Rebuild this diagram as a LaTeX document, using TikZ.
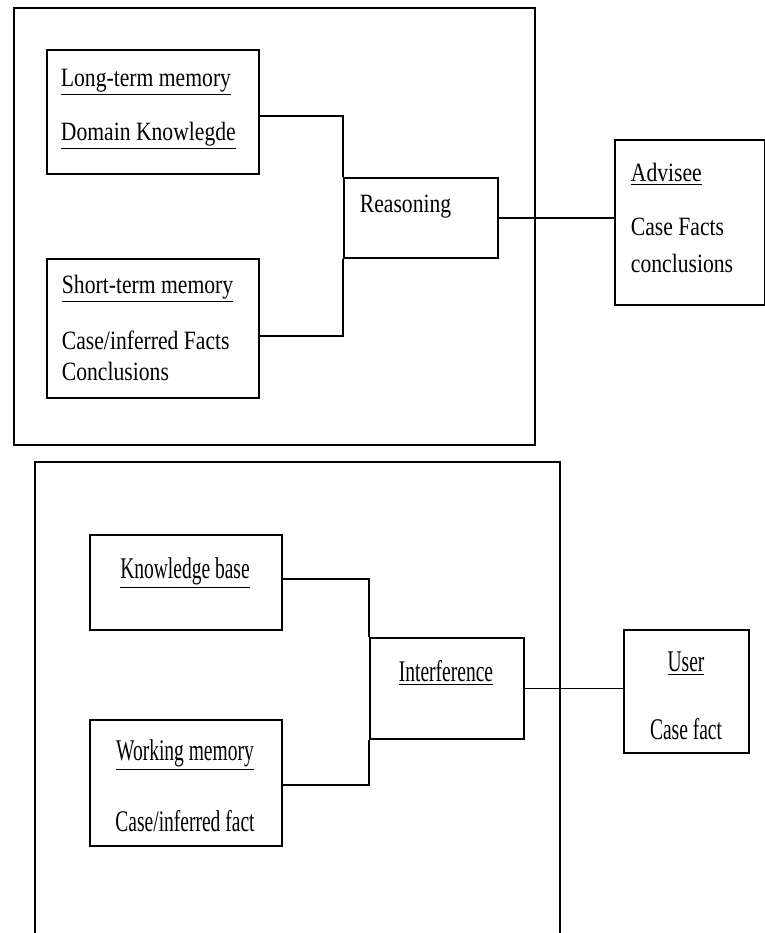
\documentclass[tikz,border=0pt]{standalone}
\usepackage{fontspec}
\setmainfont{Liberation Serif}
\newfontfamily\upperfont{Liberation Serif}[FakeStretch=0.82]
\newfontfamily\lowerfont{Liberation Serif}[FakeStretch=0.65]

\begin{document}
\begin{tikzpicture}[
	x=0.5pt, y=-0.5pt,
	line width=0.9pt,
	box/.style={draw, rectangle, inner sep=0pt, anchor=north west},
	uptext/.style={anchor=base west, inner sep=0pt, font=\upperfont\fontsize{13.2}{16}\selectfont},
	lowtext/.style={anchor=base, inner sep=0pt, font=\lowerfont\fontsize{15}{18}\selectfont},
	]
	\useasboundingbox (0,0) rectangle (765,933);
	
	%% upper frame
	\draw (14,8) rectangle (535,445);
	\node[box, minimum width=106pt, minimum height=62pt] (ltm) at (46,49) {};
	\node[box, minimum width=106pt, minimum height=69.5pt] (stm) at (46,258) {};
	\node[box, minimum width=77pt, minimum height=40pt] (reason) at (343,177) {};
	\node[box, minimum width=75pt, minimum height=82.5pt] (advisee) at (614,139) {};
	
	\node[uptext] (ltmtitle) at (60,86) {\underline{Long-term memory}};
	\node[uptext] (ltmbody) at (60,140) {\underline{Domain Knowlegde}};
	\node[uptext] (stmtitle) at (61,293) {\underline{Short-term memory}};
	\node[uptext] (stmfacts) at (61,349) {Case/inferred Facts};
	\node[uptext] (stmconcl) at (61,380) {Conclusions};
	\node[uptext] (reasontext) at (359,212) {Reasoning};
	\node[uptext] (advtitle) at (630,181) {\underline{Advisee}};
	\node[uptext] (advfacts) at (630,235) {Case Facts};
	\node[uptext] (advconcl) at (630,272) {conclusions};
	
	\draw ([yshift=-2pt]ltm.east) -| (reason.north west);
	\draw ([yshift=-3.75pt]stm.east) -| (reason.south west);
	\draw (reason.east) -- (reason.east -| advisee.west);
	
	%% lower frame
	\draw (35,940) -- (35,462) -- (560,462) -- (560,940);
	\node[box, minimum width=96pt, minimum height=47.5pt] (kb) at (89,534) {};
	\node[box, minimum width=96pt, minimum height=63pt] (wm) at (89,719) {};
	\node[box, minimum width=77pt, minimum height=50.5pt] (inf) at (369,637) {};
	\node[box, minimum width=62.5pt, minimum height=61.5pt] (user) at (623,629) {};
	
	\node[lowtext] (kbtitle) at (185,578) {\underline{Knowledge base}};
	\node[lowtext] (inftitle) at (446,681) {\underline{Interference}};
	\node[lowtext] (wmtitle) at (185,760) {\underline{Working memory}};
	\node[lowtext] (wmfacts) at (185,831) {Case/inferred fact};
	\node[lowtext] (usertitle) at (686,671) {\underline{User}};
	\node[lowtext] (userfacts) at (686,739) {Case fact};
	
	\draw ([yshift=1.75pt]kb.east) -| (inf.north west);
	\draw ([yshift=-1pt]wm.east) -| (inf.south west);
	\draw (inf.east) -- (inf.east -| user.west);
	
\end{tikzpicture}
\end{document}
